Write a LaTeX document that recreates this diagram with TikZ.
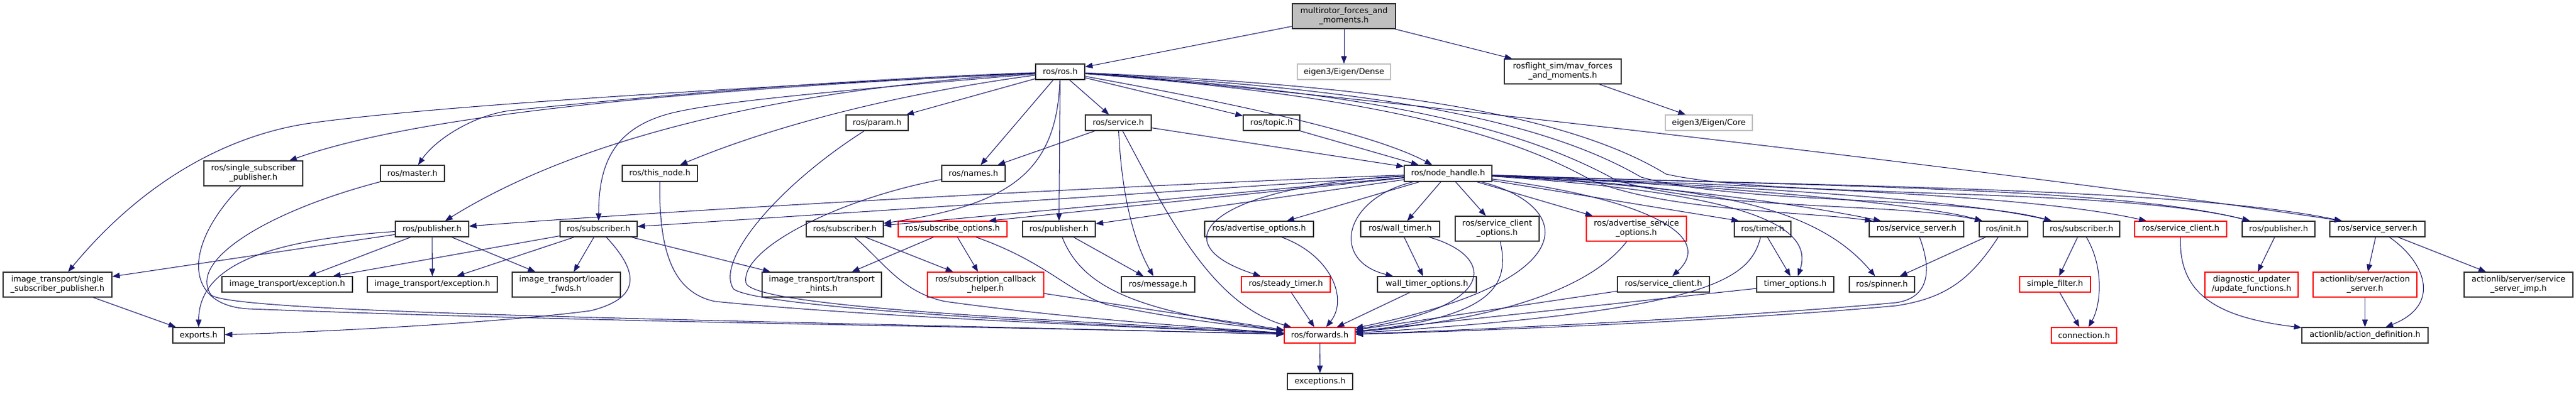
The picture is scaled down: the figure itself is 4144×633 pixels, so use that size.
\documentclass[tikz,border=0pt]{standalone}
\usepackage{fontspec}
\setmainfont{DejaVu Sans}
\usetikzlibrary{arrows.meta}
\definecolor{edgeblue}{HTML}{191970}
\definecolor{nodegray}{HTML}{BFBFBF}
\definecolor{nodered}{HTML}{FF0000}
\definecolor{nodeborder}{HTML}{303030}
\newcommand\nb[7]{\node[#1,minimum width={(#5-#3)*1pt},minimum height={(#6-#4)*1pt}] (#2) at ({(#3+#5)/2},{(#4+#6)/2}) {#7};}
\begin{document}
\begin{tikzpicture}[x=1pt,y=-1pt,
  bx/.style={draw=nodeborder,fill=white,line width=1.2pt,inner sep=0pt,align=center,font=\fontsize{12.9}{15}\selectfont},
  redbx/.style={bx,draw=nodered},
  graybx/.style={bx,draw=nodegray},
  mainbx/.style={bx,fill=nodegray},
  edg/.style={draw=edgeblue,line width=1.05pt,-{Triangle[length=12pt,width=9pt]}}]
\useasboundingbox (0,0) rectangle (4144,633);
\fill[white] (0,0) rectangle (4144,633);
% nodes
\nb{mainbx}{mr}{2079}{6}{2245}{46}{multirotor\_forces\_and\\\_moments.h}
\nb{bx}{ros}{1666}{103}{1745}{128}{ros/ros.h}
\nb{graybx}{dense}{2087}{103}{2237}{128}{eigen3/Eigen/Dense}
\nb{bx}{mav}{2420}{95}{2608}{135}{rosflight\_sim/mav\_forces\\\_and\_moments.h}
\nb{graybx}{core}{2679}{185}{2819}{210}{eigen3/Eigen/Core}
\nb{bx}{param}{1361}{185}{1461}{210}{ros/param.h}
\nb{bx}{service}{1746}{185}{1852}{210}{ros/service.h}
\nb{bx}{topic}{2000}{185}{2091}{210}{ros/topic.h}
\nb{bx}{rssp}{328}{259}{487}{299}{ros/single\_subscriber\\\_publisher.h}
\nb{bx}{master}{612}{266}{715}{292}{ros/master.h}
\nb{bx}{thisnode}{1001}{266}{1122}{292}{ros/this\_node.h}
\nb{bx}{names}{1515}{266}{1617}{292}{ros/names.h}
\nb{bx}{nh}{2259}{266}{2400}{292}{ros/node\_handle.h}
\nb{bx}{rpubA}{636}{356}{754}{381}{ros/publisher.h}
\nb{bx}{rsubA}{901}{356}{1025}{381}{ros/subscriber.h}
\nb{bx}{rsubB}{1297}{356}{1421}{381}{ros/subscriber.h}
\nb{redbx}{subopt}{1445}{356}{1620}{381}{ros/subscribe\_options.h}
\nb{bx}{rpubB}{1645}{356}{1762}{381}{ros/publisher.h}
\nb{bx}{advopt}{1938}{356}{2113}{381}{ros/advertise\_options.h}
\nb{bx}{walltimer}{2189}{356}{2316}{381}{ros/wall\_timer.h}
\nb{bx}{sco}{2341}{348}{2476}{388}{ros/service\_client\\\_options.h}
\nb{redbx}{aso}{2552}{348}{2713}{388}{ros/advertise\_service\\\_options.h}
\nb{bx}{timer}{2790}{356}{2881}{381}{ros/timer.h}
\nb{bx}{ssA}{3007}{356}{3159}{381}{ros/service\_server.h}
\nb{bx}{init}{3184}{356}{3262}{381}{ros/init.h}
\nb{bx}{rsubC}{3287}{356}{3410}{381}{ros/subscriber.h}
\nb{redbx}{scB}{3434}{356}{3582}{381}{ros/service\_client.h}
\nb{bx}{rpubC}{3607}{356}{3724}{381}{ros/publisher.h}
\nb{bx}{ssB}{3748}{356}{3901}{381}{ros/service\_server.h}
\nb{bx}{itss}{5}{438}{180}{478}{image\_transport/single\\\_subscriber\_publisher.h}
\nb{bx}{iteA}{357}{445}{567}{470}{image\_transport/exception.h}
\nb{bx}{iteB}{591}{445}{800}{470}{image\_transport/exception.h}
\nb{bx}{itlf}{824}{438}{998}{478}{image\_transport/loader\\\_fwds.h}
\nb{bx}{itth}{1226}{438}{1418}{478}{image\_transport/transport\\\_hints.h}
\nb{redbx}{scbh}{1492}{438}{1679}{478}{ros/subscription\_callback\\\_helper.h}
\nb{bx}{message}{1804}{445}{1922}{470}{ros/message.h}
\nb{redbx}{steady}{1997}{445}{2140}{470}{ros/steady\_timer.h}
\nb{bx}{wto}{2216}{445}{2375}{470}{wall\_timer\_options.h}
\nb{bx}{scA}{2602}{445}{2750}{470}{ros/service\_client.h}
\nb{bx}{tto}{2826}{445}{2950}{470}{timer\_options.h}
\nb{bx}{spinner}{2975}{445}{3080}{470}{ros/spinner.h}
\nb{redbx}{sf}{3249}{445}{3363}{470}{simple\_filter.h}
\nb{redbx}{diag}{3547}{438}{3697}{478}{diagnostic\_updater\\/update\_functions.h}
\nb{redbx}{aserv}{3721}{438}{3888}{478}{actionlib/server/action\\\_server.h}
\nb{bx}{ssimp}{3964}{438}{4139}{478}{actionlib/server/service\\\_server\_imp.h}
\nb{bx}{exports}{278}{527}{361}{552}{exports.h}
\nb{redbx}{fwd}{2066}{527}{2180}{552}{ros/forwards.h}
\nb{redbx}{conn}{3300}{527}{3405}{552}{connection.h}
\nb{bx}{adef}{3703}{527}{3906}{552}{actionlib/action\_definition.h}
\nb{bx}{exc}{2071}{601}{2176}{627}{exceptions.h}
% top edges
\draw[edg] (mr) -- (ros);
\draw[edg] (mr) -- (dense);
\draw[edg] (mr) -- (mav);
\draw[edg] (mav) -- (core);
% ros.h edges
\draw[edg] (ros) -- (param);
\draw[edg] (ros) -- (names);
\draw[edg] (ros) .. controls (1700,280) and (1620,330) .. (rsubB);
\draw[edg] (ros) -- (rpubB);
\draw[edg] (ros) -- (service);
\draw[edg] (ros) -- (topic);
\draw[edg] (ros) .. controls (1950,160) and (2200,210) .. (nh);
\draw[edg] (ros) .. controls (1200,140) and (700,170) .. (500,198) .. controls (380,215) and (240,280) .. (itss);
\draw[edg] (ros) .. controls (1200,140) and (700,175) .. (rssp);
\draw[edg] (ros) .. controls (1300,130) and (1000,160) .. (820,178) .. controls (760,186) and (700,225) .. (master);
\draw[edg] (ros) .. controls (1300,150) and (1150,165) .. (1080,182) .. controls (990,205) and (963,260) .. (rsubA);
\draw[edg] (ros) .. controls (1300,140) and (950,210) .. (rpubA);
\draw[edg] (ros) .. controls (1450,150) and (1250,200) .. (thisnode);
\draw[edg] (ros) .. controls (2000,135) and (3200,270) .. ([xshift=-57pt]ssB.north);
\draw[edg] (ros) .. controls (2150,150) and (2400,200) .. (2560,290) .. controls (2680,340) and (2900,340) .. ([xshift=-71pt]ssA.north);
\draw[edg] (ros) .. controls (2150,145) and (2420,190) .. (2600,290) .. controls (2760,340) and (3050,325) .. ([xshift=-34pt]init.north);
\draw[edg] (ros) .. controls (2150,140) and (2460,180) .. (2640,285) .. controls (2800,330) and (3150,315) .. ([xshift=-48pt]rsubC.north);
\draw[edg] (ros) .. controls (2150,135) and (2500,170) .. (2680,280) .. controls (2850,320) and (3400,300) .. ([xshift=-46pt]rpubC.north);
% service, topic
\draw[edg] (service) -- (names);
\draw[edg] (service) .. controls (1805,330) and (1830,400) .. (message);
\draw[edg] (service) .. controls (1880,350) and (1950,490) .. (fwd);
\draw[edg] (service) -- (nh);
\draw[edg] (topic) -- (nh);
% node_handle edges
\draw[edg] (nh) .. controls (1900,295) and (1200,330) .. (rpubA);
\draw[edg] (nh) -- (rsubA);
\draw[edg] (nh) -- (rsubB);
\draw[edg] (nh) -- ([xshift=58pt]subopt.north);
\draw[edg] (nh) -- (rpubB);
\draw[edg] (nh) .. controls (1950,300) and (1860,390) .. (steady);
\draw[edg] (nh) -- (advopt);
\draw[edg] (nh) -- (walltimer);
\draw[edg] (nh) .. controls (2160,320) and (2140,420) .. (wto);
\draw[edg] (nh) -- (sco);
\draw[edg] (nh) -- (aso);
\draw[edg] (nh) .. controls (2530,330) and (2560,450) .. (fwd);
\draw[edg] (nh) .. controls (2650,320) and (2760,380) .. (scA);
\draw[edg] (nh) -- ([xshift=-38pt]timer.north);
\draw[edg] (nh) .. controls (2800,310) and (2920,360) .. (tto);
\draw[edg] (nh) .. controls (2750,300) and (2920,330) .. (spinner);
\draw[edg] (nh) .. controls (2700,300) and (2900,330) .. ([xshift=-57pt]ssA.north);
\draw[edg] (nh) .. controls (2800,300) and (3100,330) .. ([xshift=-34pt]init.north);
\draw[edg] (nh) .. controls (2800,300) and (3150,320) .. ([xshift=-48pt]rsubC.north);
\draw[edg] (nh) .. controls (2800,300) and (3250,310) .. ([xshift=-55pt]scB.north);
\draw[edg] (nh) .. controls (2900,300) and (3400,300) .. ([xshift=-46pt]rpubC.north);
\draw[edg] (nh) .. controls (2900,300) and (3500,300) .. ([xshift=-57pt]ssB.north);
% into forwards
\draw[edg] (rssp) .. controls (290,400) and (300,492) .. (400,497) .. controls (1000,520) and (1600,525) .. (fwd);
\draw[edg] (master) .. controls (430,340) and (300,420) .. (340,475) .. controls (380,505) and (1200,515) .. (fwd);
\draw[edg] (thisnode) .. controls (1060,400) and (1080,470) .. (1150,485) .. controls (1400,510) and (1800,525) .. (fwd);
\draw[edg] (param) .. controls (1250,300) and (1150,420) .. (1180,465) .. controls (1220,495) and (1700,520) .. (fwd);
\draw[edg] (names) .. controls (1350,320) and (1190,400) .. (1200,455) .. controls (1210,495) and (1700,515) .. (fwd);
\draw[edg] (rsubB) .. controls (1420,420) and (1450,470) .. (1520,485) .. controls (1700,510) and (1900,525) .. (fwd);
\draw[edg] (rsubB) -- (scbh);
\draw[edg] (subopt) -- (itth);
\draw[edg] (subopt) -- (scbh);
\draw[edg] (subopt) .. controls (1680,420) and (1720,470) .. (1780,490) .. controls (1900,515) and (2000,525) .. (fwd);
\draw[edg] (scbh) -- (fwd);
\draw[edg] (rpubB) -- (message);
\draw[edg] (rpubB) .. controls (1740,460) and (1820,500) .. (fwd);
\draw[edg] (advopt) .. controls (2140,410) and (2170,480) .. (fwd);
\draw[edg] (steady) -- (fwd);
\draw[edg] (walltimer) -- (wto);
\draw[edg] (walltimer) .. controls (2400,410) and (2420,490) .. (fwd);
\draw[edg] (wto) -- (fwd);
\draw[edg] (sco) .. controls (2430,460) and (2400,510) .. (fwd);
\draw[edg] (aso) .. controls (2570,450) and (2450,510) .. (fwd);
\draw[edg] (scA) -- (fwd);
\draw[edg] (timer) -- (tto);
\draw[edg] (timer) .. controls (2815,450) and (2750,500) .. (fwd);
\draw[edg] (tto) -- (fwd);
\draw[edg] (ssA) .. controls (3110,440) and (3100,480) .. (3050,487) .. controls (2800,510) and (2400,530) .. (fwd);
\draw[edg] (init) -- (spinner);
\draw[edg] (init) .. controls (3170,450) and (3130,480) .. (3050,492) .. controls (2800,515) and (2400,532) .. (fwd);
\draw[edg] (fwd) -- (exc);
% right side
\draw[edg] (rsubC) -- (sf);
\draw[edg] (rsubC) .. controls (3385,430) and (3380,490) .. (conn);
\draw[edg] (sf) -- (conn);
\draw[edg] (scB) .. controls (3505,470) and (3560,510) .. (adef);
\draw[edg] (rpubC) -- (diag);
\draw[edg] (ssB) -- (aserv);
\draw[edg] (ssB) .. controls (3900,420) and (3930,490) .. (adef);
\draw[edg] (ssB) -- (ssimp);
\draw[edg] (aserv) -- (adef);
% image_transport
\draw[edg] (rpubA) .. controls (450,385) and (320,420) .. (exports);
\draw[edg] (rpubA) -- (itss);
\draw[edg] (rpubA) -- (iteA);
\draw[edg] (rpubA) -- (iteB);
\draw[edg] (rpubA) -- (itlf);
\draw[edg] (rsubA) -- (iteA);
\draw[edg] (rsubA) -- (iteB);
\draw[edg] (rsubA) -- (itlf);
\draw[edg] (rsubA) -- (itth);
\draw[edg] (rsubA) .. controls (1030,440) and (1030,480) .. (950,500) .. controls (800,520) and (500,535) .. (exports);
\draw[edg] (itss) -- (exports);
\end{tikzpicture}
\end{document}
